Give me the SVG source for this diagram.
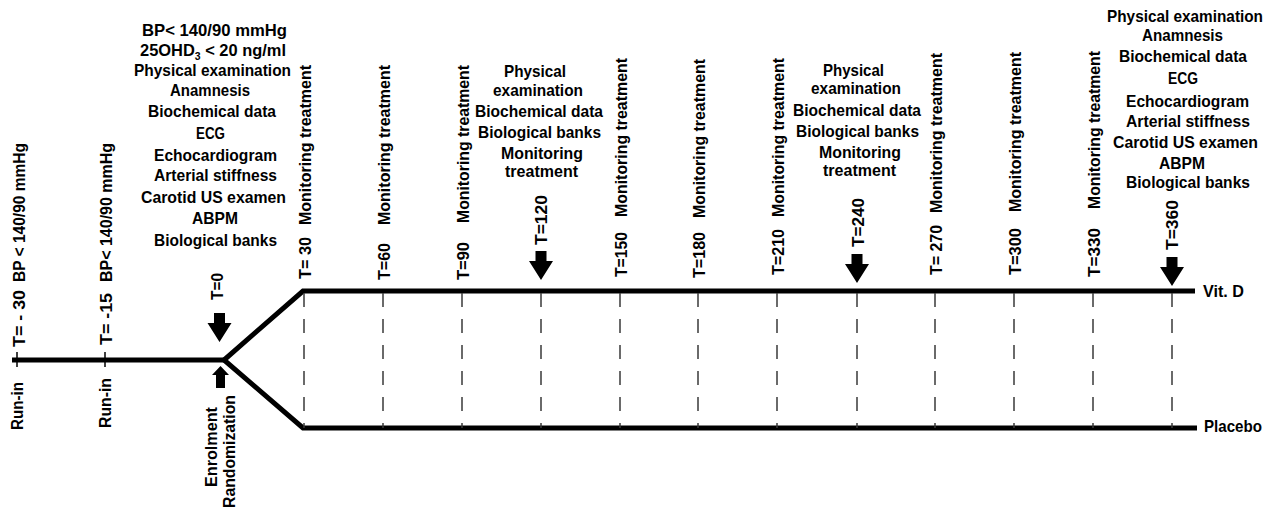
<svg xmlns="http://www.w3.org/2000/svg" xmlns:xlink="http://www.w3.org/1999/xlink" width="1277" height="510" viewBox="0 0 1277 510">
<style>
text{font-family:"Liberation Sans",Arial,sans-serif;font-weight:bold;fill:#000}
.h{font-size:16.5px}
.v{font-size:16.5px}
.main{fill:none;stroke:#000;stroke-width:5;stroke-linejoin:miter}
.tick{stroke:#000;stroke-width:1.5}
.dash{stroke:#3a3a3a;stroke-width:1.5;stroke-dasharray:14 12}
.arr{fill:#000}
</style>
<defs>
<path id="down" d="M-5.5,-29 H5.5 V-19 H12 L0,0 L-12,-19 H-5.5 Z"/>
</defs>
<rect width="1277" height="510" fill="#fff"/>

<g id="connectors">
<polyline class="main" points="12,360 224,360"/>
<polyline class="main" points="1195,291 303,291 224,360 303,428 1197,428"/>
<line class="tick" x1="17" y1="352" x2="17" y2="367"/>
<line class="tick" x1="105" y1="352" x2="105" y2="367"/>
<g>
<line class="dash" x1="304" y1="293" x2="304" y2="428"/>
<line class="dash" x1="383" y1="293" x2="383" y2="428"/>
<line class="dash" x1="462" y1="293" x2="462" y2="428"/>
<line class="dash" x1="541" y1="293" x2="541" y2="428"/>
<line class="dash" x1="620" y1="293" x2="620" y2="428"/>
<line class="dash" x1="698" y1="293" x2="698" y2="428"/>
<line class="dash" x1="777" y1="293" x2="777" y2="428"/>
<line class="dash" x1="857" y1="293" x2="857" y2="428"/>
<line class="dash" x1="935" y1="293" x2="935" y2="428"/>
<line class="dash" x1="1014" y1="293" x2="1014" y2="428"/>
<line class="dash" x1="1093" y1="293" x2="1093" y2="428"/>
<line class="dash" x1="1172" y1="293" x2="1172" y2="428"/>
</g>
<use href="#down" class="arr" x="219.5" y="342"/>
<use href="#down" class="arr" x="541" y="280"/>
<use href="#down" class="arr" x="857" y="283"/>
<use href="#down" class="arr" x="1172" y="286"/>
<path class="arr" d="M220.5,366 L229,375 H225 V388 H216 V375 H212 Z"/>
</g>

<g id="run-in-t-30">
<text class="v" transform="translate(25,347) rotate(-90)" textLength="57" lengthAdjust="spacingAndGlyphs">T= - 30</text>
<text class="v" transform="translate(25,282) rotate(-90)" textLength="139" lengthAdjust="spacingAndGlyphs">BP &lt; 140/90 mmHg</text>
<text class="v" transform="translate(23,430) rotate(-90)" textLength="48" lengthAdjust="spacingAndGlyphs">Run-in</text>
</g>

<g id="run-in-t-15">
<text class="v" transform="translate(112,345) rotate(-90)" textLength="52" lengthAdjust="spacingAndGlyphs">T= -15</text>
<text class="v" transform="translate(112,282) rotate(-90)" textLength="139" lengthAdjust="spacingAndGlyphs">BP&lt; 140/90 mmHg</text>
<text class="v" transform="translate(111,428) rotate(-90)" textLength="50" lengthAdjust="spacingAndGlyphs">Run-in</text>
</g>

<g id="t0">
<text class="h" x="142" y="36" textLength="145" lengthAdjust="spacingAndGlyphs">BP&lt; 140/90 mmHg</text>
<text class="h" x="140" y="56" textLength="146" lengthAdjust="spacingAndGlyphs">25OHD<tspan font-size="10.5" dy="4">3</tspan><tspan dy="-4"> &lt; 20 ng/ml</tspan></text>
<text class="h" x="134" y="76" textLength="157" lengthAdjust="spacingAndGlyphs">Physical examination</text>
<text class="h" x="170" y="96" textLength="80" lengthAdjust="spacingAndGlyphs">Anamnesis</text>
<text class="h" x="148" y="117" textLength="128" lengthAdjust="spacingAndGlyphs">Biochemical data</text>
<text class="h" x="196" y="139" textLength="29" lengthAdjust="spacingAndGlyphs">ECG</text>
<text class="h" x="154" y="161" textLength="123" lengthAdjust="spacingAndGlyphs">Echocardiogram</text>
<text class="h" x="154" y="181" textLength="123" lengthAdjust="spacingAndGlyphs">Arterial stiffness</text>
<text class="h" x="141" y="203" textLength="145" lengthAdjust="spacingAndGlyphs">Carotid US examen</text>
<text class="h" x="192" y="224" textLength="46" lengthAdjust="spacingAndGlyphs">ABPM</text>
<text class="h" x="154" y="246" textLength="123" lengthAdjust="spacingAndGlyphs">Biological banks</text>
<text class="v" transform="translate(223,300) rotate(-90)" textLength="27" lengthAdjust="spacingAndGlyphs">T=0</text>
<text class="v" transform="translate(217,487) rotate(-90)" textLength="80" lengthAdjust="spacingAndGlyphs">Enrolment</text>
<text class="v" transform="translate(235,508) rotate(-90)" textLength="113" lengthAdjust="spacingAndGlyphs">Randomization</text>
</g>

<g id="t30">
<text class="v" transform="translate(310.5,279) rotate(-90)" textLength="42" lengthAdjust="spacingAndGlyphs">T= 30</text>
<text class="v" transform="translate(310.5,225) rotate(-90)" textLength="160" lengthAdjust="spacingAndGlyphs">Monitoring treatment</text>
</g>
<g id="t60">
<text class="v" transform="translate(389.5,280) rotate(-90)" textLength="37" lengthAdjust="spacingAndGlyphs">T=60</text>
<text class="v" transform="translate(389.5,225) rotate(-90)" textLength="160" lengthAdjust="spacingAndGlyphs">Monitoring treatment</text>
</g>
<g id="t90">
<text class="v" transform="translate(468.5,280) rotate(-90)" textLength="38" lengthAdjust="spacingAndGlyphs">T=90</text>
<text class="v" transform="translate(468.5,223) rotate(-90)" textLength="158" lengthAdjust="spacingAndGlyphs">Monitoring treatment</text>
</g>
<g id="t120">
<text class="h" x="504" y="77" textLength="62" lengthAdjust="spacingAndGlyphs">Physical</text>
<text class="h" x="493" y="96" textLength="90" lengthAdjust="spacingAndGlyphs">examination</text>
<text class="h" x="475" y="117" textLength="128" lengthAdjust="spacingAndGlyphs">Biochemical data</text>
<text class="h" x="478" y="138" textLength="123" lengthAdjust="spacingAndGlyphs">Biological banks</text>
<text class="h" x="501" y="159" textLength="82" lengthAdjust="spacingAndGlyphs">Monitoring</text>
<text class="h" x="505" y="177" textLength="73" lengthAdjust="spacingAndGlyphs">treatment</text>
<text class="v" transform="translate(547,245) rotate(-90)" textLength="50" lengthAdjust="spacingAndGlyphs">T=120</text>
</g>
<g id="t150">
<text class="v" transform="translate(626.5,277) rotate(-90)" textLength="45" lengthAdjust="spacingAndGlyphs">T=150</text>
<text class="v" transform="translate(626.5,217) rotate(-90)" textLength="159" lengthAdjust="spacingAndGlyphs">Monitoring treatment</text>
</g>
<g id="t180">
<text class="v" transform="translate(704.5,278) rotate(-90)" textLength="46" lengthAdjust="spacingAndGlyphs">T=180</text>
<text class="v" transform="translate(704.5,218) rotate(-90)" textLength="159" lengthAdjust="spacingAndGlyphs">Monitoring treatment</text>
</g>
<g id="t210">
<text class="v" transform="translate(783.5,275) rotate(-90)" textLength="46" lengthAdjust="spacingAndGlyphs">T=210</text>
<text class="v" transform="translate(783.5,217) rotate(-90)" textLength="159" lengthAdjust="spacingAndGlyphs">Monitoring treatment</text>
</g>
<g id="t240">
<text class="h" x="823" y="76" textLength="61" lengthAdjust="spacingAndGlyphs">Physical</text>
<text class="h" x="811" y="94" textLength="90" lengthAdjust="spacingAndGlyphs">examination</text>
<text class="h" x="793" y="116" textLength="128" lengthAdjust="spacingAndGlyphs">Biochemical data</text>
<text class="h" x="796" y="137" textLength="123" lengthAdjust="spacingAndGlyphs">Biological banks</text>
<text class="h" x="819" y="158" textLength="82" lengthAdjust="spacingAndGlyphs">Monitoring</text>
<text class="h" x="823" y="176" textLength="73" lengthAdjust="spacingAndGlyphs">treatment</text>
<text class="v" transform="translate(864,247) rotate(-90)" textLength="49" lengthAdjust="spacingAndGlyphs">T=240</text>
</g>
<g id="t270">
<text class="v" transform="translate(941.5,275) rotate(-90)" textLength="50" lengthAdjust="spacingAndGlyphs">T= 270</text>
<text class="v" transform="translate(941.5,213) rotate(-90)" textLength="160" lengthAdjust="spacingAndGlyphs">Monitoring treatment</text>
</g>
<g id="t300">
<text class="v" transform="translate(1020.5,275) rotate(-90)" textLength="47" lengthAdjust="spacingAndGlyphs">T=300</text>
<text class="v" transform="translate(1020.5,212) rotate(-90)" textLength="160" lengthAdjust="spacingAndGlyphs">Monitoring treatment</text>
</g>
<g id="t330">
<text class="v" transform="translate(1099.5,277) rotate(-90)" textLength="49" lengthAdjust="spacingAndGlyphs">T=330</text>
<text class="v" transform="translate(1099.5,209) rotate(-90)" textLength="158" lengthAdjust="spacingAndGlyphs">Monitoring treatment</text>
</g>
<g id="t360">
<text class="h" x="1107" y="22" textLength="156" lengthAdjust="spacingAndGlyphs">Physical examination</text>
<text class="h" x="1142" y="41" textLength="81" lengthAdjust="spacingAndGlyphs">Anamnesis</text>
<text class="h" x="1119" y="62" textLength="128" lengthAdjust="spacingAndGlyphs">Biochemical data</text>
<text class="h" x="1168" y="84" textLength="30" lengthAdjust="spacingAndGlyphs">ECG</text>
<text class="h" x="1126" y="107" textLength="123" lengthAdjust="spacingAndGlyphs">Echocardiogram</text>
<text class="h" x="1126" y="127" textLength="124" lengthAdjust="spacingAndGlyphs">Arterial stiffness</text>
<text class="h" x="1113" y="148" textLength="145" lengthAdjust="spacingAndGlyphs">Carotid US examen</text>
<text class="h" x="1159" y="169" textLength="46" lengthAdjust="spacingAndGlyphs">ABPM</text>
<text class="h" x="1126" y="188" textLength="124" lengthAdjust="spacingAndGlyphs">Biological banks</text>
<text class="v" transform="translate(1178,250) rotate(-90)" textLength="50" lengthAdjust="spacingAndGlyphs">T=360</text>
</g>
<g id="vit-d">
<text class="h" x="1203" y="297" textLength="41" lengthAdjust="spacingAndGlyphs">Vit. D</text>
</g>
<g id="placebo">
<text class="h" x="1204" y="432" textLength="58" lengthAdjust="spacingAndGlyphs">Placebo</text>
</g>
</svg>
